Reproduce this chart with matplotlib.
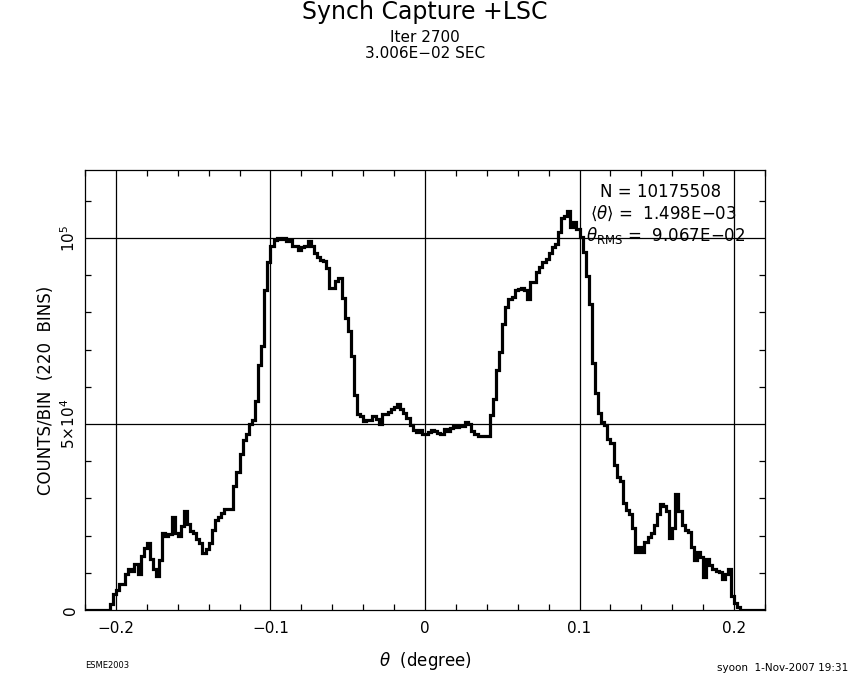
import numpy as np
import matplotlib
matplotlib.use("Agg")
import matplotlib.pyplot as plt
from matplotlib.ticker import MultipleLocator, FixedLocator

# histogram: 220 bins between -0.22 and 0.22 degree
theta_lo = -0.22
theta_hi = 0.22
n_bins = 220

counts = [
    0, 0, 0, 0, 0, 0, 0, 0, 1700, 4400,
    5500, 7100, 7100, 9800, 11100, 10500, 12400, 9800, 14400, 16800,
    17900, 13600, 11100, 9100, 13400, 20600, 19800, 20400, 24900, 20600,
    19800, 22700, 26600, 23200, 21200, 20800, 19200, 18100, 15400, 16300,
    18100, 21600, 24100, 25100, 26100, 27200, 27200, 27200, 33300, 37200,
    42000, 45600, 47200, 50000, 51100, 56100, 66000, 70900, 86100, 93500,
    97800, 99400, 100000, 99800, 100000, 99300, 99600, 98000, 98000, 96800,
    97500, 97800, 99100, 98000, 96000, 95000, 94200, 93800, 92000, 86600,
    86600, 88400, 89300, 83900, 78500, 74900, 68200, 57900, 52700, 52100,
    50700, 51200, 51200, 52100, 51400, 50100, 52700, 52700, 53200, 54100,
    54500, 55500, 54000, 53000, 51600, 49700, 48500, 47800, 48300, 47400,
    47200, 47800, 48300, 48000, 47600, 47200, 48700, 48200, 48900, 49400,
    49200, 49400, 49600, 50600, 49900, 48100, 47400, 46700, 46900, 46900,
    46700, 52400, 56600, 64500, 69400, 76800, 81400, 83700, 84100, 86100,
    86300, 86600, 86100, 83500, 88100, 88100, 90800, 92100, 93500, 94400,
    95900, 97500, 98400, 101500, 105500, 106000, 107300, 102900, 104200, 102400,
    100200, 96200, 89900, 82300, 66400, 58400, 52900, 50600, 49700, 45900,
    45000, 38900, 35700, 34800, 28800, 27000, 25700, 22000, 15700, 17000,
    15700, 18400, 19700, 20700, 22900, 25700, 28400, 27900, 26600, 19300,
    22000, 31100, 26600, 22900, 21600, 21100, 17000, 13500, 15700, 14300,
    8800, 13800, 12000, 11100, 10600, 10200, 8400, 9700, 11100, 3800,
    1800, 900, 0, 0, 0, 0, 0, 0, 0, 0,
]

x_major = [-0.2, -0.1, 0, 0.1, 0.2]
x_labels = ["\u22120.2", "\u22120.1", "0", "0.1", "0.2"]
y_major = [0, 50000, 100000]
y_labels = ["0", r"$5{\times}10^4$", r"$10^5$"]

stats_lines = ["N = 10175508",
               r"$\langle\theta\rangle$ =  1.498E$-$03",
               r"$\theta_{\rm RMS}$ =  9.067E$-$02"]

edges = np.linspace(theta_lo, theta_hi, n_bins + 1)

fig = plt.figure(figsize=(8.5, 6.8), dpi=100)
ax = fig.add_axes([85/850, 70/680, 680/850, 440/680])

ax.stairs(counts, edges, color="black", lw=2.3, baseline=0)

ax.set_xlim(theta_lo, theta_hi)
ax.set_ylim(0, 118300)

# grid lines on the major positions
for xv in x_major:
    ax.axvline(xv, color="black", lw=0.9, zorder=0)
for yv in y_major[1:]:
    ax.axhline(yv, color="black", lw=0.9, zorder=0)

ax.xaxis.set_major_locator(FixedLocator(x_major))
ax.set_xticklabels(x_labels, fontsize=11)
ax.xaxis.set_minor_locator(MultipleLocator(0.02))
ax.yaxis.set_major_locator(FixedLocator(y_major))
ax.set_yticklabels(y_labels, fontsize=11, rotation=90, va="center")
ax.yaxis.set_minor_locator(MultipleLocator(10000))
ax.tick_params(which="both", direction="in", top=True, right=True, width=0.9)
ax.tick_params(which="minor", length=4.5)
ax.tick_params(which="major", length=0, pad=8)
ax.tick_params(axis="y", which="major", pad=5)
for sp in ax.spines.values():
    sp.set_linewidth(0.9)

ax.set_xlabel(r"$\theta$  (degree)", fontsize=12, labelpad=10)
ax.set_ylabel("COUNTS/BIN  (220  BINS)", fontsize=12, labelpad=3)

# stats text, upper right
ax.text(0.847, 0.950, stats_lines[0], transform=ax.transAxes, ha="center", va="center", fontsize=12)
ax.text(0.851, 0.902, stats_lines[1], transform=ax.transAxes, ha="center", va="center", fontsize=12)
ax.text(0.854, 0.852, stats_lines[2], transform=ax.transAxes, ha="center", va="center", fontsize=12)

fig.text(0.5, 1 - 12/680, "Synch Capture +LSC", ha="center", va="center", fontsize=17)
fig.text(0.5, 1 - 38/680, "Iter 2700", ha="center", va="center", fontsize=11)
fig.text(0.5, 1 - 54/680, "3.006E\u221202 SEC", ha="center", va="center", fontsize=11)
fig.text(85/850, 1 - 666/680, "ESME2003", ha="left", va="center", fontsize=6)
fig.text(848/850, 1 - 668/680, "syoon  1-Nov-2007 19:31", ha="right", va="center", fontsize=7.5)

fig.savefig("out.png", dpi=100, facecolor="white")
